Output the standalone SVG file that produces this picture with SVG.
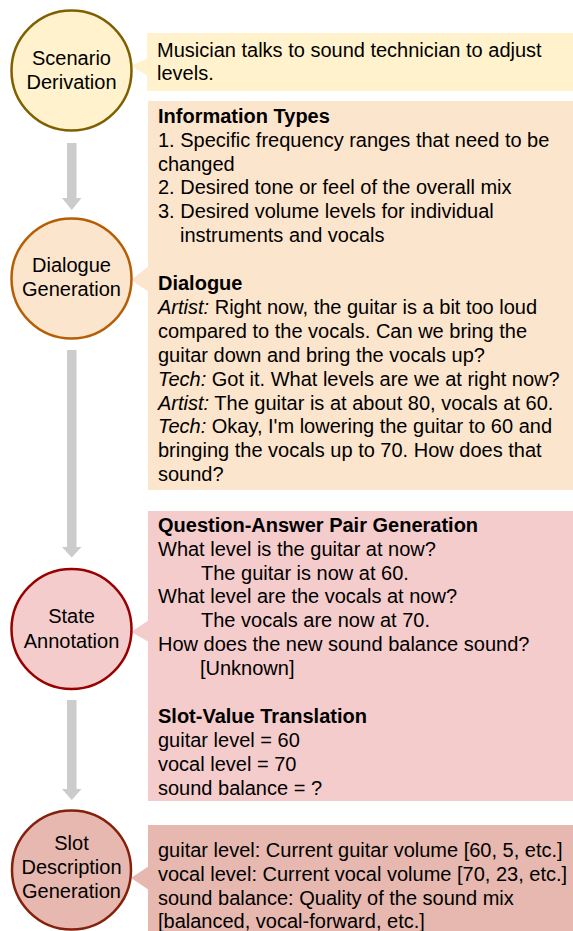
<svg xmlns="http://www.w3.org/2000/svg" width="573" height="931" viewBox="0 0 573 931">
<style>
text{font-family:"Liberation Sans",Arial,sans-serif;font-size:20px;fill:#000}
.c{text-anchor:middle}
.b{font-weight:bold}
.i{font-style:italic}
.arrow{fill:#cccccc}
</style>
<rect width="573" height="931" fill="#ffffff"/>
<g id="connectors">
<polygon class="arrow" points="67,143 76.5,143 76.5,198 81.5,198 71.75,210 62,198 67,198"/>
<polygon class="arrow" points="67,350 76.5,350 76.5,547 81.5,547 71.75,557.5 62,547 67,547"/>
<polygon class="arrow" points="67,700 76.5,700 76.5,789 81.5,789 71.75,800 62,789 67,789"/>
</g>
<g id="box-scenario">
<rect x="147" y="33" width="426" height="58" fill="#fff2cc"/>
<polygon points="131,66 148,58 148,76" fill="#fff2cc"/>
<text x="157" y="57">Musician talks to sound technician to adjust</text>
<text x="157" y="80">levels.</text>
</g>
<g id="box-dialogue">
<rect x="148" y="101" width="425" height="389" fill="#fce5cd"/>
<polygon points="131,280 149,266 149,292" fill="#fce5cd"/>
<text x="158" y="122.7" class="b">Information Types</text>
<text x="158" y="146.6">1. Specific frequency ranges that need to be</text>
<text x="158" y="170.5">changed</text>
<text x="158" y="194.4">2. Desired tone or feel of the overall mix</text>
<text x="158" y="218.3">3. Desired volume levels for individual</text>
<text x="180" y="242.2">instruments and vocals</text>
<text x="158" y="290" class="b">Dialogue</text>
<text x="158" y="313.9"><tspan class="i">Artist:</tspan> Right now, the guitar is a bit too loud</text>
<text x="158" y="337.8">compared to the vocals. Can we bring the</text>
<text x="158" y="361.7">guitar down and bring the vocals up?</text>
<text x="158" y="385.6"><tspan class="i">Tech:</tspan> Got it. What levels are we at right now?</text>
<text x="158" y="409.5"><tspan class="i">Artist:</tspan> The guitar is at about 80, vocals at 60.</text>
<text x="158" y="433.4"><tspan class="i">Tech:</tspan> Okay, I'm lowering the guitar to 60 and</text>
<text x="158" y="457.3">bringing the vocals up to 70. How does that</text>
<text x="158" y="481.2">sound?</text>
</g>
<g id="box-state">
<rect x="148" y="511" width="425" height="290" fill="#f4cccc"/>
<polygon points="131,632 149,620 149,642" fill="#f4cccc"/>
<text x="158" y="531.7" class="b">Question-Answer Pair Generation</text>
<text x="158" y="555.6">What level is the guitar at now?</text>
<text x="201" y="579.5">The guitar is now at 60.</text>
<text x="158" y="603.4">What level are the vocals at now?</text>
<text x="201" y="627.3">The vocals are now at 70.</text>
<text x="158" y="651.2">How does the new sound balance sound?</text>
<text x="200" y="675.1">[Unknown]</text>
<text x="158" y="723" class="b">Slot-Value Translation</text>
<text x="158" y="746.9">guitar level = 60</text>
<text x="158" y="770.8">vocal level = 70</text>
<text x="158" y="794.7">sound balance = ?</text>
</g>
<g id="box-slot">
<rect x="148" y="825" width="425" height="106" fill="#e6b8af"/>
<polygon points="131,878 149,866 149,890" fill="#e6b8af"/>
<text x="158" y="856.7">guitar level: Current guitar volume [60, 5, etc.]</text>
<text x="158" y="880.6">vocal level: Current vocal volume [70, 23, etc.]</text>
<text x="158" y="904.5">sound balance: Quality of the sound mix</text>
<text x="158" y="928.4">[balanced, vocal-forward, etc.]</text>
</g>
<g id="node-scenario">
<circle cx="71.5" cy="70.5" r="60" fill="#fff2cc" stroke="#7f6000" stroke-width="2.5"/>
<text x="71.5" y="65" class="c">Scenario</text>
<text x="71.5" y="89" class="c">Derivation</text>
</g>
<g id="node-dialogue">
<circle cx="71.5" cy="278.5" r="60" fill="#fce5cd" stroke="#b45f06" stroke-width="2.5"/>
<text x="71.5" y="272" class="c">Dialogue</text>
<text x="71.5" y="296" class="c">Generation</text>
</g>
<g id="node-state">
<circle cx="71.5" cy="629" r="60" fill="#f4cccc" stroke="#990000" stroke-width="2.5"/>
<text x="71.5" y="623" class="c">State</text>
<text x="71.5" y="647.5" class="c">Annotation</text>
</g>
<g id="node-slot">
<circle cx="71.5" cy="870" r="59.5" fill="#e6b8af" stroke="#85200c" stroke-width="2.5"/>
<text x="71.5" y="850" class="c">Slot</text>
<text x="71.5" y="874" class="c">Description</text>
<text x="71.5" y="897.5" class="c">Generation</text>
</g>
</svg>
